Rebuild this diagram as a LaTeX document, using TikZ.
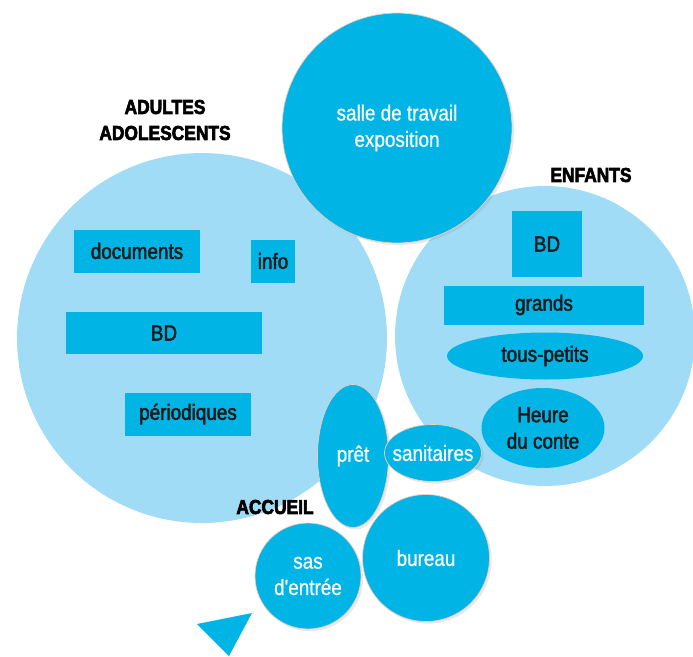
\documentclass[tikz,border=0pt]{standalone}
\usepackage{fontspec}
\setmainfont{Liberation Sans}[FakeStretch=0.9]
\newfontfamily\roomfont{Liberation Sans}[FakeStretch=0.86, RawFeature={embolden=2}]
\newfontfamily\bubblefont{Liberation Sans}[FakeStretch=0.86, RawFeature={embolden=0.6}]
\newfontfamily\headfont{Liberation Sans Bold}[FakeStretch=0.86, RawFeature={embolden=3}]
\usepackage{xcolor}
\usepackage{tikz}
\usetikzlibrary{shapes.geometric,shadows}
\definecolor{zonelight}{RGB}{160,220,245}
\definecolor{zonedark}{RGB}{0,180,230}
\definecolor{inkdark}{RGB}{25,25,25}
\definecolor{rimpeach}{RGB}{240,205,190}

\begin{document}
\begin{tikzpicture}[x=0.02cm, y=-0.02cm,
    zone/.style={circle, fill=zonelight, inner sep=0pt},
    room/.style={fill=zonedark, inner sep=0pt, text=inkdark, align=center, font=\fontsize{12.5}{15}\roomfont},
    bubble/.style={room, text=white, font=\fontsize{12.5}{15}\bubblefont, draw=rimpeach, line width=0.4pt, drop shadow={opacity=0.18, shadow xshift=1.2pt, shadow yshift=-1.2pt}},
    heading/.style={text=black, align=center, font=\fontsize{11.5}{14.8}\headfont}]
    \useasboundingbox (0,0) rectangle (693,656);
    \node[zone, minimum size=7.4cm] (adultes) at (202,338) {};
    \node[zone, minimum size=6cm] (enfants) at (545,336) {};
    \node[bubble, circle, minimum size=4.6cm] (salle) at (397,128) {salle de travail\\exposition};
    \node[heading] (titreadultes) at (165,120) {ADULTES\\ADOLESCENTS};
    \node[heading] (titreenfants) at (591,175) {ENFANTS};
    \node[heading] (titreaccueil) at (275,507) {ACCUEIL};
    \node[room, minimum width=2.52cm, minimum height=0.86cm] (documents) at (137,251) {documents};
    \node[room, minimum width=0.9cm, minimum height=0.86cm] (info) at (273,261) {info};
    \node[room, minimum width=3.92cm, minimum height=0.84cm] (bdadultes) at (164,333) {BD};
    \node[room, minimum width=2.54cm, minimum height=0.86cm] (periodiques) at (188,414) {périodiques};
    \node[room, minimum width=1.4cm, minimum height=1.34cm] (bdenfants) at (547,244) {BD};
    \node[room, minimum width=4.02cm, minimum height=0.78cm] (grands) at (544,305) {grands};
    \node[room, ellipse, minimum width=3.92cm, minimum height=0.94cm] (touspetits) at (545,356) {tous-petits};
    \node[room, ellipse, minimum width=2.46cm, minimum height=1.6cm] (conte) at (543,428) {Heure\\du conte};
    \node[bubble, ellipse, minimum width=1.42cm, minimum height=2.86cm] (pret) at (353,456) {prêt};
    \node[bubble, ellipse, minimum width=1.94cm, minimum height=1.14cm] (sanitaires) at (433,453) {\makebox[0pt]{sanitaires}};
    \node[bubble, circle, minimum size=2.54cm] (bureau) at (426,558) {bureau};
    \node[bubble, circle, minimum size=2.12cm] (sas) at (308,576) {sas\\d'entrée};
    \fill[zonedark] (197,624) -- (252,613) -- (229,656) -- cycle;
\end{tikzpicture}
\end{document}
